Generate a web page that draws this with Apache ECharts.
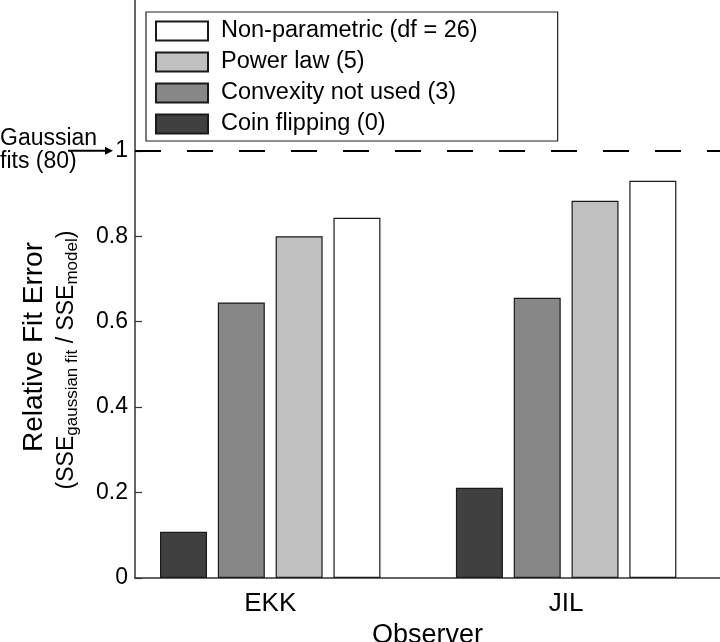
<!DOCTYPE html>
<html>
<head>
<meta charset="utf-8">
<script src="https://cdn.jsdelivr.net/npm/echarts@6/dist/echarts.min.js"></script>
<style>html,body{margin:0;padding:0;background:#fff}#c{width:720px;height:642px}</style>
</head>
<body>
<div id="c"></div>
<script>
const observers = ['EKK', 'JIL'];
const seriesNames = ['Coin flipping (0)', 'Convexity not used (3)', 'Power law (5)', 'Non-parametric (df = 26)'];
const coinFlipping = [0.108, 0.211];
const convexityNotUsed = [0.645, 0.656];
const powerLaw = [0.800, 0.883];
const nonParametric = [0.843, 0.930];
const yTicks = [0, 0.2, 0.4, 0.6, 0.8, 1];
const gaussianLevel = 1;
const colors = ['#404040', '#878787', '#c0c0c0', '#ffffff'];
const values = [coinFlipping, convexityNotUsed, powerLaw, nonParametric];

const FONT = 'Liberation Sans, Arial, Helvetica, sans-serif';
const chart = echarts.init(document.getElementById('c'));

const series = seriesNames.map((name, i) => ({
  name: name,
  type: 'bar',
  barWidth: 47,
  barGap: '23%',
  data: values[i].map((v, k) => [k + 1, v]),
  itemStyle: { color: colors[i], borderColor: '#1a1a1a', borderWidth: 1.2 },
  emphasis: { disabled: true },
  markLine: i === 0 ? {
    silent: true,
    symbol: 'none',
    label: { show: false },
    lineStyle: { type: [26, 26], color: '#000', width: 2 },
    data: [{ yAxis: gaussianLevel }]
  } : undefined
}));

chart.setOption({
  animation: false,
  textStyle: { fontFamily: FONT },
  grid: { left: 135, right: 0, top: 0, bottom: 64, containLabel: false, outerBoundsMode: 'none' },
  legend: {
    orient: 'vertical',
    left: 146,
    top: 12,
    data: ['Non-parametric (df = 26)', 'Power law (5)', 'Convexity not used (3)', 'Coin flipping (0)'],
    icon: 'rect',
    itemWidth: 52,
    itemHeight: 19,
    itemGap: 7,
    padding: [7, 80, 5, 9],
    borderColor: '#222',
    borderWidth: 1.2,
    backgroundColor: '#fff',
    textStyle: { fontSize: 23.5, color: '#000', fontFamily: FONT, padding: [0, 0, 0, 8] },
    selectedMode: false
  },
  xAxis: {
    type: 'value',
    min: 0.543,
    max: 2.52,
    splitLine: { show: false },
    axisLine: { show: true, lineStyle: { color: '#333', width: 1.5 } },
    axisTick: { show: false },
    axisLabel: {
      customValues: [1, 2],
      formatter: v => observers[Math.round(v) - 1],
      fontSize: 26, color: '#000', margin: 13
    },
    name: 'Observer',
    nameLocation: 'middle',
    nameGap: 41,
    nameTextStyle: { fontSize: 27, color: '#000' }
  },
  yAxis: {
    type: 'value',
    min: 0,
    max: 1.353,
    splitLine: { show: false },
    axisLine: { show: true, lineStyle: { color: '#333', width: 1.5 } },
    axisTick: { show: true, inside: true, length: 7, customValues: yTicks, lineStyle: { color: '#333', width: 1.2 } },
    axisLabel: {
      customValues: yTicks,
      formatter: v => (v === 0 ? '0' : v === 1 ? '1' : v.toFixed(1)),
      fontSize: 23, color: '#000', margin: 7
    },
    name: '{a|Relative Fit Error}\n{b|(SSE}{s|gaussian fit}{b| / SSE}{s|model}{e|)}',
    nameLocation: 'middle',
    nameGap: 53,
    nameTextStyle: {
      color: '#000',
      padding: [0, 116, 0, 0],
      rich: {
        a: { fontSize: 28, lineHeight: 36, color: '#000', fontFamily: FONT },
        b: { fontSize: 23, lineHeight: 30, color: '#000', fontFamily: FONT },
        e: { fontSize: 23, lineHeight: 30, color: '#000', fontFamily: FONT, padding: [0, 26, 0, 0] },
        s: { fontSize: 17, lineHeight: 30, color: '#000', fontFamily: FONT, padding: [10, 0, 0, 0] }
      }
    }
  },
  series: series
});

const yPix = chart.convertToPixel({ yAxisIndex: 0 }, gaussianLevel);
chart.setOption({
  graphic: [
    { type: 'text', left: 0, top: yPix - 24, style: { text: 'Gaussian', fontSize: 23, fill: '#000', fontFamily: FONT } },
    { type: 'text', left: 0, top: yPix - 1, style: { text: 'fits (80)', fontSize: 23, fill: '#000', fontFamily: FONT } },
    { type: 'line', shape: { x1: 68, y1: yPix, x2: 109, y2: yPix }, style: { stroke: '#000', lineWidth: 2 } },
    { type: 'polygon', shape: { points: [[113, yPix], [105, yPix - 4], [105, yPix + 4]] }, style: { fill: '#000' } }
  ]
});
</script>
</body>
</html>
